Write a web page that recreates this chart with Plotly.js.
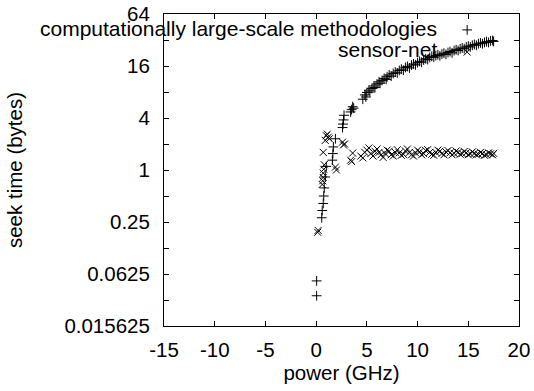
<!DOCTYPE html>
<html>
<head>
<meta charset="utf-8">
<script src="https://cdn.plot.ly/plotly-3.0.1.min.js"></script>
<style>html,body{margin:0;padding:0;background:#fff;}#chart{width:534px;height:391px;}</style>
</head>
<body>
<div id="chart"></div>
<script>
// Series 1: "computationally large-scale methodologies" (+ markers)
const methX = [0.05,0.05,0.55,0.6,0.7,0.75,0.8,0.9,1.0,1.6,1.65,1.7,1.9,2.6,2.65,2.7,2.75,3.4,3.5,3.6,3.7,
  4.6,4.8,4.9,5.0,5.2,5.3,5.5,5.7,5.8,6.0,6.2,6.3,6.5,6.7,6.9,7.0,7.2,7.4,7.6,7.8,8.0,8.2,8.4,8.6,8.8,
  9.0,9.2,9.4,9.6,9.8,10.0,10.2,10.4,10.6,10.8,11.0,11.2,11.4,11.6,11.8,12.0,12.2,12.4,12.6,12.8,13.0,
  13.2,13.4,13.6,13.8,14.0,14.2,14.4,14.6,14.8,15.0,15.2,15.4,15.6,15.8,16.0,16.2,16.4,16.6,16.8,17.0,
  17.2,17.4,17.5];
const methY = [0.035,0.052,0.28,0.34,0.41,0.5,0.62,0.83,1.1,1.3,1.55,1.85,2.3,3.1,3.4,3.8,4.3,4.7,5.0,5.4,5.2,
  6.6,7.4,7.0,7.9,8.4,8.0,8.8,9.4,9.0,9.9,10.5,10.1,10.9,11.5,11.2,12.0,12.6,12.2,13.1,13.6,13.3,14.2,14.7,
  14.3,15.4,15.8,15.2,16.4,16.9,16.5,17.5,18.1,17.7,18.8,19.4,19.0,20.1,20.7,20.2,21.1,21.6,21.0,22.0,
  22.5,21.8,22.9,23.5,22.7,24.1,24.7,24.2,25.3,25.9,25.4,26.6,27.2,26.6,27.8,28.4,27.8,29.0,29.6,29.0,
  30.0,30.6,30.0,31.2,31.6,30.8];

// Series 2: "sensor-net" (x markers)
const netX = [0.15,0.2,0.6,0.65,0.7,0.7,0.75,0.8,0.7,0.9,1.0,1.1,1.2,1.3,1.9,2.0,2.6,2.7,2.8,3.4,3.5,3.6,
  4.4,4.6,4.8,5.0,5.2,5.4,5.6,5.8,6.0,6.2,6.4,6.6,6.8,7.0,7.2,7.4,7.6,7.8,8.0,8.2,8.4,8.6,8.8,9.0,9.2,
  9.4,9.6,9.8,10.0,10.2,10.4,10.6,10.8,11.0,11.2,11.4,11.6,11.8,12.0,12.2,12.4,12.6,12.8,13.0,13.2,13.4,
  13.6,13.8,14.0,14.2,14.4,14.6,14.8,15.0,15.2,15.4,15.6,15.8,16.0,16.2,16.4,16.6,16.8,17.0,17.2,17.4,17.5];
const netY = [0.19,0.2,0.68,0.75,0.82,0.92,1.02,1.15,1.6,2.2,2.5,2.6,2.4,2.3,1.08,1.0,2.1,1.95,2.0,1.3,1.25,1.57,
  1.45,1.38,1.6,1.7,1.8,1.55,1.45,1.65,1.75,1.6,1.5,1.4,1.55,1.7,1.65,1.5,1.45,1.6,1.72,1.58,1.48,1.52,
  1.66,1.75,1.6,1.5,1.45,1.58,1.7,1.62,1.5,1.55,1.68,1.72,1.6,1.52,1.48,1.6,1.7,1.65,1.55,1.5,1.62,1.68,
  1.58,1.5,1.56,1.66,1.6,1.52,1.55,1.64,1.58,1.5,1.54,1.62,1.56,1.5,1.52,1.6,1.55,1.48,1.5,1.58,1.54,1.5,1.56];

const seriesNames = ["computationally large-scale methodologies", "sensor-net"];
const yTickVals = [0.015625,0.03125,0.0625,0.125,0.25,0.5,1,2,4,8,16,32,64];
const yTickText = ["0.015625","","0.0625","","0.25","","1","","4","","16","","64"];
const xTickVals = [-15,-10,-5,0,5,10,15,20];
const xTickText = ["-15","-10","-5","0","5","10","15","20"];

const FONT = {family: "Liberation Sans, Arial, sans-serif", size: 20.5, color: "#000"};
const KEYFONT = {family: "Liberation Sans, Arial, sans-serif", size: 21, color: "#000"};

const traces = [
  {x: methX, y: methY, type: "scatter", mode: "markers", name: seriesNames[0], showlegend: false,
   marker: {symbol: "cross-thin-open", size: 7, color: "#000", line: {color: "#000", width: 1}}},
  {x: netX, y: netY, type: "scatter", mode: "markers", name: seriesNames[1], showlegend: false,
   marker: {symbol: "x-thin-open", size: 7, color: "#000", line: {color: "#000", width: 1}}},
  // legend key samples on hidden overlay axes (0..1 over the plot area)
  {x: [0.854, 0.854], y: [0.949, 0.878], xaxis: "x2", yaxis: "y2", type: "scatter", mode: "markers",
   showlegend: false, hoverinfo: "skip", cliponaxis: false,
   marker: {symbol: ["cross-thin-open", "x-thin-open"], size: 7, color: "#000", line: {color: "#000", width: 1}}}
];

const layout = {
  width: 534, height: 391,
  margin: {l: 164, r: 15, t: 14, b: 65},
  paper_bgcolor: "#fff", plot_bgcolor: "#fff",
  font: FONT,
  showlegend: false,
  xaxis: {
    range: [-15, 20], autorange: false, tickvals: xTickVals, ticktext: xTickText,
    ticks: "inside", ticklen: 5, tickcolor: "#000", ticklabelstandoff: 5,
    showline: true, linecolor: "#000", linewidth: 1, mirror: "ticks", showgrid: false, zeroline: false,
    tickfont: FONT,
    title: {text: "power (GHz)", font: FONT, standoff: 6}
  },
  yaxis: {
    type: "log", range: [Math.log10(0.015625), Math.log10(64)], autorange: false,
    tickvals: yTickVals, ticktext: yTickText, ticks: "inside", ticklen: 5, tickcolor: "#000",
    ticklabelstandoff: 9,
    showline: true, linecolor: "#000", linewidth: 1, mirror: "ticks", showgrid: false, zeroline: false,
    tickfont: FONT,
    title: {text: "seek time (bytes)", font: FONT, standoff: 36}
  },
  xaxis2: {overlaying: "x", range: [0, 1], autorange: false, visible: false, fixedrange: true},
  yaxis2: {overlaying: "y", range: [0, 1], autorange: false, visible: false, fixedrange: true},
  annotations: [
    {xref: "paper", yref: "paper", x: 0.776, y: 0.952, xanchor: "right", yanchor: "middle",
     text: seriesNames[0], showarrow: false, font: KEYFONT},
    {xref: "paper", yref: "paper", x: 0.776, y: 0.885, xanchor: "right", yanchor: "middle",
     text: seriesNames[1], showarrow: false, font: KEYFONT}
  ]
};

Plotly.newPlot("chart", traces, layout, {staticPlot: true, displayModeBar: false});
</script>
</body>
</html>
